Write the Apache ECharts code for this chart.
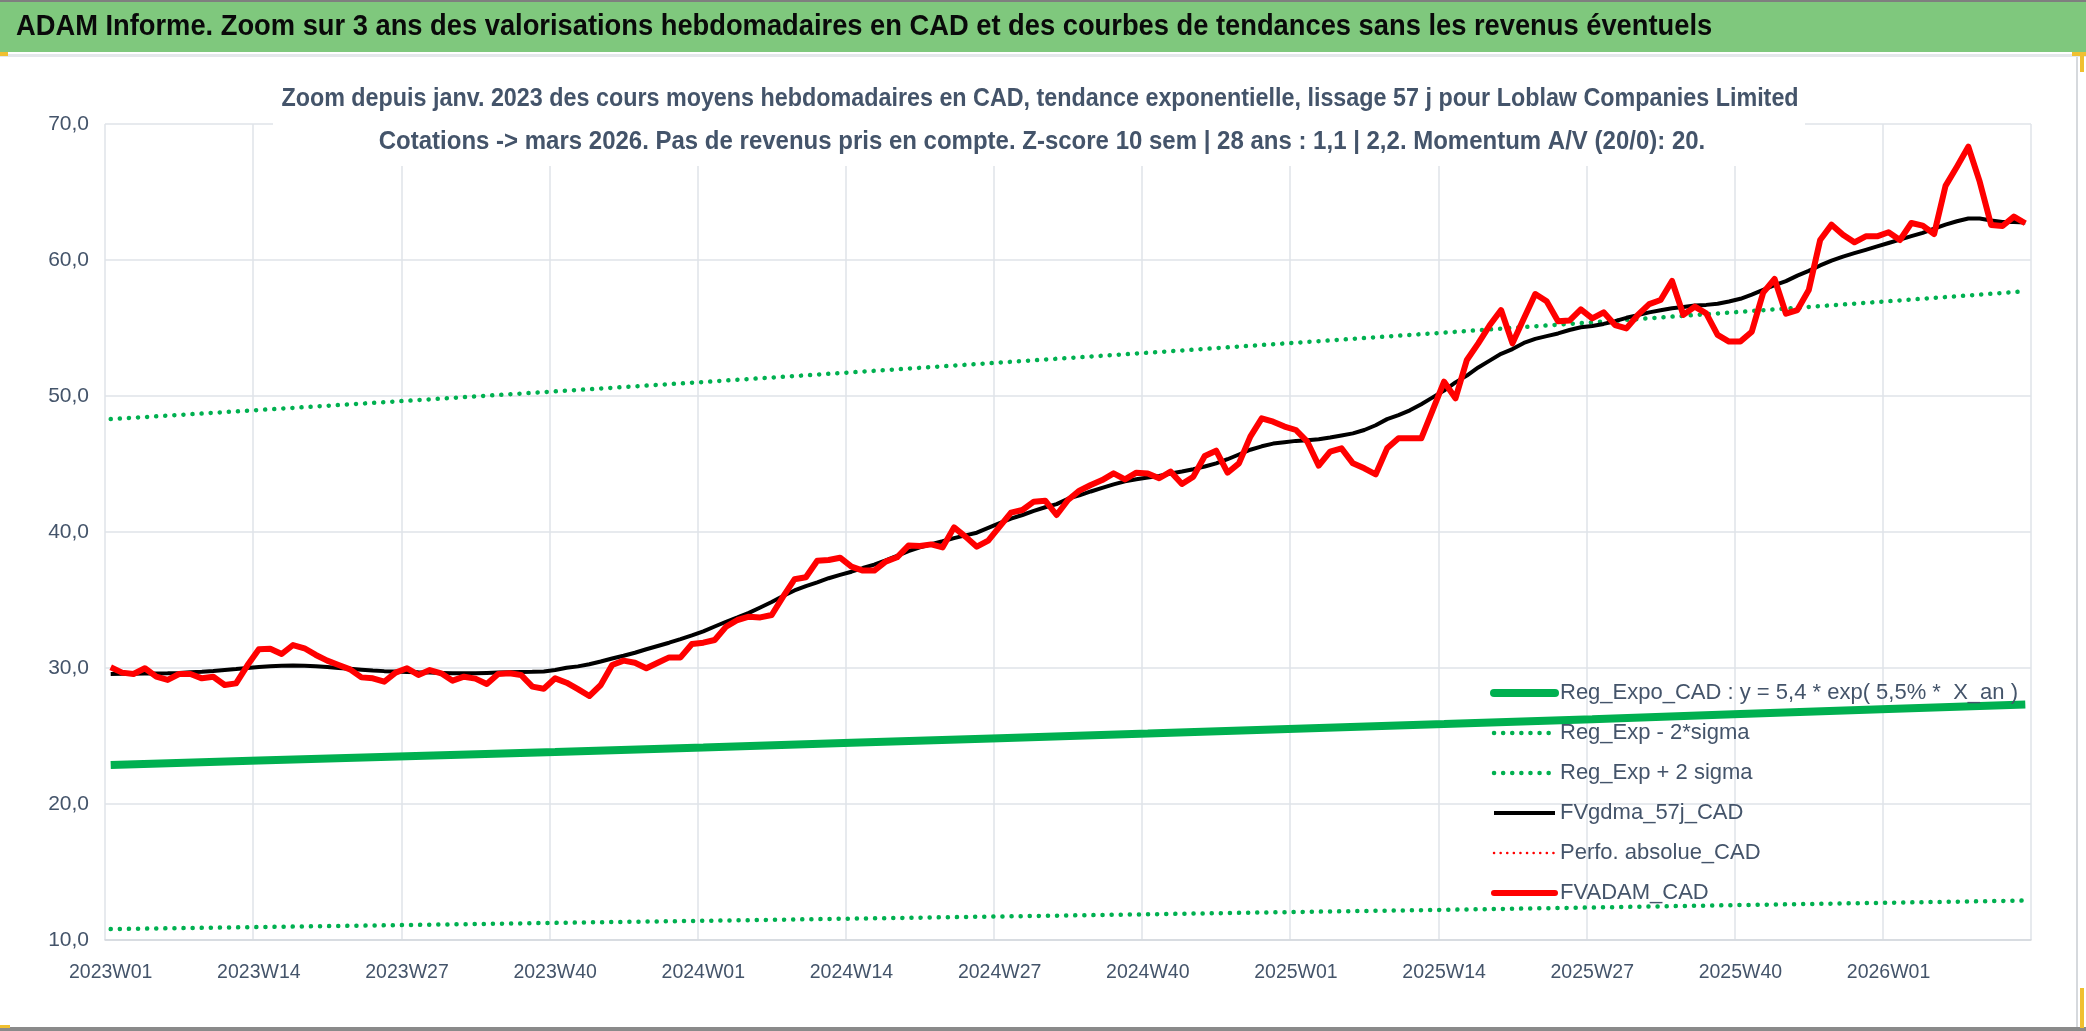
<!DOCTYPE html>
<html>
<head>
<meta charset="utf-8">
<script src="https://cdn.jsdelivr.net/npm/echarts@6/dist/echarts.min.js"></script>
<style>
html,body{margin:0;padding:0;background:#fff;}
#chart{width:2086px;height:1031px;}
</style>
</head>
<body>
<div id="chart"></div>
<script>
// ---- DATA ----
const catYears = ['2023', '2024', '2025', '2026'];
const catWeeksPerYear = [52, 52, 52, 13];

// FVADAM_CAD (weekly average price, CAD)
const fvadam = [
  30.05, 29.66, 29.56, 29.98, 29.36, 29.12, 29.56, 29.56, 29.24, 29.36,
  28.75, 28.87, 30.20, 31.37, 31.42, 31.03, 31.69, 31.45, 30.96, 30.54,
  30.22, 29.90, 29.31, 29.24, 28.99, 29.66, 29.98, 29.49, 29.85, 29.61,
  29.07, 29.36, 29.22, 28.82, 29.56, 29.61, 29.49, 28.63, 28.48, 29.24,
  28.92, 28.45, 27.94, 28.75, 30.22, 30.54, 30.39, 29.98, 30.39, 30.78,
  30.78, 31.76, 31.86, 32.06, 33.04, 33.53, 33.77, 33.72, 33.90, 35.25,
  36.52, 36.67, 37.89, 37.94, 38.11, 37.45, 37.16, 37.16, 37.82, 38.14,
  39.00, 38.97, 39.09, 38.87, 40.34, 39.66, 38.92, 39.36, 40.39, 41.42,
  41.62, 42.23, 42.30, 41.25, 42.35, 43.04, 43.46, 43.82, 44.31, 43.87,
  44.36, 44.31, 43.95, 44.44, 43.53, 44.07, 45.59, 45.98, 44.36, 45.05,
  47.01, 48.36, 48.11, 47.75, 47.50, 46.64, 44.88, 45.91, 46.15, 45.05,
  44.68, 44.24, 46.15, 46.89, 46.89, 46.89, 48.97, 51.05, 49.83, 52.65,
  53.87, 55.20, 56.32, 53.87, 55.70, 57.50, 56.96, 55.50, 55.55, 56.37,
  55.71, 56.15, 55.22, 54.97, 55.96, 56.76, 57.06, 58.46, 55.96, 56.57,
  56.08, 54.49, 54.00, 54.00, 54.73, 57.60, 58.60, 56.05, 56.32, 57.79,
  61.47, 62.60, 61.86, 61.30, 61.74, 61.74, 62.04, 61.47, 62.72, 62.53,
  61.91, 65.45, 66.86, 68.33, 65.76, 62.57, 62.50, 63.19, 62.70
];

// FVgdma_57j_CAD (57-day smoothing)
const fvgdma = [
  29.56, 29.57, 29.58, 29.59, 29.60, 29.61, 29.64, 29.68, 29.72, 29.78,
  29.85, 29.92, 30.00, 30.08, 30.13, 30.17, 30.19, 30.17, 30.12, 30.07,
  30.00, 29.94, 29.88, 29.82, 29.77, 29.74, 29.71, 29.68, 29.66, 29.64,
  29.62, 29.61, 29.62, 29.64, 29.66, 29.68, 29.70, 29.72, 29.75, 29.85,
  30.02, 30.12, 30.28, 30.48, 30.70, 30.90, 31.12, 31.38, 31.62, 31.86,
  32.12, 32.40, 32.70, 33.05, 33.40, 33.72, 34.05, 34.45, 34.85, 35.30,
  35.70, 36.02, 36.30, 36.60, 36.85, 37.08, 37.35, 37.60, 37.92, 38.25,
  38.60, 38.87, 39.10, 39.32, 39.55, 39.75, 39.95, 40.30, 40.65, 40.98,
  41.25, 41.55, 41.82, 42.05, 42.45, 42.70, 42.98, 43.25, 43.50, 43.72,
  43.88, 44.00, 44.12, 44.30, 44.45, 44.62, 44.82, 45.05, 45.35, 45.70,
  46.05, 46.30, 46.50, 46.60, 46.70, 46.75, 46.82, 46.95, 47.10, 47.25,
  47.50, 47.85, 48.30, 48.60, 48.95, 49.40, 49.90, 50.40, 51.00, 51.50,
  52.10, 52.60, 53.10, 53.45, 53.90, 54.20, 54.40, 54.60, 54.85, 55.05,
  55.15, 55.30, 55.50, 55.75, 55.95, 56.15, 56.30, 56.45, 56.55, 56.65,
  56.70, 56.78, 56.95, 57.15, 57.45, 57.80, 58.15, 58.45, 58.85, 59.20,
  59.60, 59.95, 60.25, 60.50, 60.75, 61.00, 61.25, 61.50, 61.75, 62.00,
  62.30, 62.60, 62.85, 63.05, 63.05, 62.90, 62.80, 62.80, 62.75
];

// Trend curves read at every 13th week
const trendCats = ['2023W01', '2023W14', '2023W27', '2023W40', '2024W01', '2024W14', '2024W27',
                   '2024W40', '2025W01', '2025W14', '2025W27', '2025W40', '2026W01', '2026W13'];
const regExpo = [22.87, 23.19, 23.51, 23.83, 24.16, 24.50, 24.84, 25.18, 25.53, 25.88, 26.24, 26.61, 26.98, 27.32];
const regLow  = [10.80, 10.95, 11.10, 11.26, 11.41, 11.57, 11.73, 11.89, 12.06, 12.22, 12.39, 12.57, 12.74, 12.90];
const regHigh = [48.30, 48.97, 49.65, 50.34, 51.03, 51.74, 52.46, 53.18, 53.92, 54.66, 55.42, 56.19, 56.97, 57.70];
const perfoAbs = [];

const yTicks = {min: 10, max: 70, step: 10};

const headerText = 'ADAM Informe. Zoom sur 3 ans des valorisations hebdomadaires en CAD et des courbes de tendances sans les revenus éventuels';
const subLine1 = 'Zoom depuis janv. 2023 des cours moyens hebdomadaires en CAD, tendance exponentielle, lissage 57 j pour Loblaw Companies Limited';
const subLine2 = 'Cotations -> mars 2026. Pas de revenus pris en compte. Z-score 10 sem | 28 ans : 1,1 | 2,2. Momentum A/V (20/0): 20.';
const names = ['Reg_Expo_CAD : y = 5,4 * exp( 5,5% *  X_an )', 'Reg_Exp - 2*sigma', 'Reg_Exp + 2 sigma',
               'FVgdma_57j_CAD', 'Perfo. absolue_CAD', 'FVADAM_CAD'];

// ---- BUILD ----
const categories = [];
catYears.forEach((y, i) => {
  for (let w = 1; w <= catWeeksPerYear[i]; w++) categories.push(y + 'W' + (w < 10 ? '0' + w : w));
});
const pairs = (vals) => vals.map((v, i) => [trendCats[i], v]);

const FONT = "'Liberation Sans', Arial, sans-serif";
const TXT = '#44546a';
const GRID = '#dfe3e8';
const GREEN = '#00b050';
const RED = '#ff0000';

const dotted = (color, w, gap) => ({color: color, width: w, type: [0.1, gap], cap: 'round'});
const lsReg = {color: GREEN, width: 8, cap: 'round'};
const lsBand = dotted(GREEN, 4.5, 9);
const lsBlack = {color: '#000000', width: 4};
const lsPerfo = dotted(RED, 2.5, 6.5);
const lsRed = {color: RED, width: 6, join: 'round', cap: 'round'};

const chart = echarts.init(document.getElementById('chart'), null, {renderer: 'canvas'});

chart.setOption({
  animation: false,
  backgroundColor: '#ffffff',
  textStyle: {fontFamily: FONT},
  graphic: [
    {type: 'rect', shape: {x: 0, y: 0, width: 2086, height: 52}, style: {fill: '#7fc87d'}, z: 0},
    {type: 'rect', shape: {x: 0, y: 0, width: 2086, height: 2}, style: {fill: '#7f7f7f'}, z: 1},
    {type: 'rect', shape: {x: 0, y: 54, width: 2086, height: 3}, style: {fill: '#e4e7eb'}, z: 1},
    {type: 'rect', shape: {x: 2076, y: 57, width: 2, height: 972}, style: {fill: '#d6d9dd'}, z: 1},
    {type: 'rect', shape: {x: 0, y: 1027, width: 2086, height: 4}, style: {fill: '#8a8a8a'}, z: 1},
    {type: 'rect', shape: {x: 0, y: 52, width: 8, height: 4}, style: {fill: '#f0c030'}, z: 2},
    {type: 'rect', shape: {x: 2072, y: 52, width: 14, height: 4}, style: {fill: '#f0c030'}, z: 2},
    {type: 'rect', shape: {x: 2080, y: 52, width: 4, height: 20}, style: {fill: '#f0c030'}, z: 2},
    {type: 'rect', shape: {x: 0, y: 1025, width: 10, height: 3}, style: {fill: '#f0c030'}, z: 2},
    {type: 'rect', shape: {x: 2080, y: 988, width: 4, height: 40}, style: {fill: '#f0c030'}, z: 2},
    {type: 'text', x: 16, y: 27, scaleX: 0.91, z: 3,
     style: {text: headerText, x: 0, y: 0, align: 'left', verticalAlign: 'middle',
             font: 'bold 30px ' + FONT, fill: '#0a0a0a'}},
    // white box behind the chart subtitle (hides the top gridline)
    {type: 'rect', shape: {x: 273, y: 76, width: 1532, height: 90}, style: {fill: '#ffffff'}, z: 10},
    {type: 'text', x: 1040, y: 99, scaleX: 0.897, z: 11,
     style: {text: subLine1, x: 0, y: 0, align: 'center', verticalAlign: 'middle',
             font: 'bold 26px ' + FONT, fill: TXT}},
    {type: 'text', x: 1042, y: 142, scaleX: 0.923, z: 11,
     style: {text: subLine2, x: 0, y: 0, align: 'center', verticalAlign: 'middle',
             font: 'bold 26px ' + FONT, fill: TXT}}
  ],
  grid: {left: 105, right: 55, top: 124, bottom: 91, containLabel: false},
  xAxis: {
    type: 'category',
    data: categories,
    boundaryGap: true,
    axisLine: {lineStyle: {color: '#d4d8dd', width: 1.5}},
    axisTick: {interval: 12, length: 7, lineStyle: {color: '#d4d8dd', width: 1.5}},
    axisLabel: {interval: 12, fontSize: 19.5, color: TXT, margin: 23, fontFamily: FONT},
    splitLine: {show: true, interval: 12, lineStyle: {color: GRID, width: 1.5}}
  },
  yAxis: {
    type: 'value',
    min: yTicks.min, max: yTicks.max, interval: yTicks.step,
    axisLine: {show: false},
    axisTick: {show: false},
    axisLabel: {fontSize: 21, color: TXT, margin: 16, fontFamily: FONT,
                formatter: v => v.toFixed(1).replace('.', ',')},
    splitLine: {lineStyle: {color: GRID, width: 1.5}}
  },
  legend: {
    orient: 'vertical',
    left: 1490,
    top: 678,
    itemWidth: 61,
    itemHeight: 14,
    itemGap: 10,
    padding: 0,
    itemStyle: {opacity: 0},
    textStyle: {fontFamily: FONT, fontSize: 22, color: TXT, lineHeight: 30},
    data: [
      {name: names[0], lineStyle: lsReg},
      {name: names[1], lineStyle: lsBand},
      {name: names[2], lineStyle: lsBand},
      {name: names[3], lineStyle: lsBlack},
      {name: names[4], lineStyle: lsPerfo},
      {name: names[5], lineStyle: lsRed}
    ]
  },
  series: [
    {name: names[0], type: 'line', data: pairs(regExpo), symbol: 'none',
     lineStyle: {color: GREEN, width: 8}, itemStyle: {color: GREEN}, z: 2},
    {name: names[1], type: 'line', data: pairs(regLow), symbol: 'none',
     lineStyle: lsBand, itemStyle: {color: GREEN}, z: 2},
    {name: names[2], type: 'line', data: pairs(regHigh), symbol: 'none',
     lineStyle: lsBand, itemStyle: {color: GREEN}, z: 2},
    {name: names[3], type: 'line', data: fvgdma, symbol: 'none',
     lineStyle: lsBlack, itemStyle: {color: '#000000'}, z: 3},
    {name: names[4], type: 'line', data: perfoAbs, symbol: 'none',
     lineStyle: lsPerfo, itemStyle: {color: RED}, z: 3},
    {name: names[5], type: 'line', data: fvadam, symbol: 'none',
     lineStyle: {color: RED, width: 6, join: 'round'}, itemStyle: {color: RED}, z: 4}
  ]
});
</script>
</body>
</html>
